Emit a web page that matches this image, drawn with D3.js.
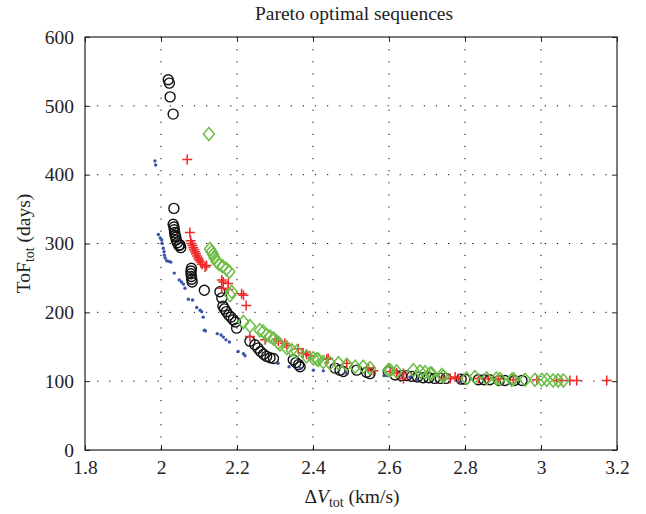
<!DOCTYPE html>
<html>
<head>
<meta charset="utf-8">
<script src="https://cdn.jsdelivr.net/npm/d3@7"></script>
<style>
  body { margin: 0; background: #fff; }
  text { font-family: "Liberation Serif", "DejaVu Serif", serif; fill: #222; }
</style>
</head>
<body>
<div id="chart"></div>
<script>
// Pareto fronts, [deltaV km/s, ToF days]
var blueDots = [[1.984,420],[1.986,414],[1.993,313],[1.998,308],[2.002,305],[2.003,300],[2.006,293],[2.008,288],
  [2.009,283],[2.011,279],[2.015,275],[2.021,274],[2.026,273],[2.035,257],[2.048,247],[2.054,244],[2.059,241],
  [2.063,235],[2.072,219],[2.083,218],[2.094,207],[2.103,203],[2.107,201],[2.111,193],[2.114,174],[2.117,173],
  [2.148,169],[2.158,167],[2.164,164],[2.171,160],[2.18,157],[2.203,143],[2.217,140],[2.221,137],[2.308,126],
  [2.337,121],[2.366,119],[2.401,116],[2.427,115],[2.486,112],[2.587,108],[2.655,106],[2.673,102],[2.787,99]];

var blackCircles = [[2.019,538],[2.022,533],[2.024,513],[2.032,488],[2.034,351],[2.032,328],[2.034,324],[2.035,320],
  [2.036,316],[2.037,312],[2.039,309],[2.04,305],[2.043,301],[2.047,297],[2.05,298],[2.052,294],
  [2.08,264],[2.079,260],[2.079,256],[2.08,252],[2.081,248],[2.082,244],
  [2.114,232],[2.155,230],[2.16,221],[2.163,209],[2.167,205],[2.172,201],[2.178,196],[2.184,193],[2.19,189],
  [2.196,186],[2.199,177],[2.234,158],[2.247,153],[2.255,148],[2.262,143],[2.27,139],[2.278,136],[2.287,134],
  [2.296,133],[2.348,131],[2.355,127],[2.362,124],[2.366,121],[2.458,119],[2.471,116],[2.48,114],[2.515,116],
  [2.541,113],[2.55,111],[2.598,114],[2.616,109],[2.633,108],[2.647,108],[2.66,107],[2.675,106],[2.69,105],
  [2.705,105],[2.72,104],[2.735,104],[2.75,104],[2.79,103],[2.8,103],[2.835,102],[2.85,102],[2.865,102],
  [2.89,101],[2.905,101],[2.93,101],[2.95,101]];

var redPlus = [[2.069,422],[2.076,316],[2.078,304],[2.08,300],[2.083,297],[2.085,294],[2.087,291],[2.09,288],
  [2.092,285],[2.095,282],[2.098,279],[2.1,276],[2.104,273],[2.108,270],[2.116,266],[2.12,268],[2.16,247],
  [2.164,244],[2.177,242],[2.16,235],[2.177,233],[2.212,227],[2.217,225],[2.224,210],[2.234,165],[2.274,160],
  [2.304,161],[2.309,158],[2.326,155],[2.331,152],[2.361,147],[2.374,141],[2.383,139],[2.392,137],[2.436,132],
  [2.44,133],[2.489,126],[2.546,119],[2.559,115],[2.603,114],[2.62,112],[2.638,111],[2.638,104],[2.743,104],
  [2.761,104],[2.774,106],[2.782,104],[2.835,104],[2.861,104],[2.888,103],[2.927,102],[2.989,102],[3.041,101],
  [3.054,101],[3.076,101],[3.094,101],[3.173,101]];

var greenDiamonds = [[2.126,459],[2.129,292],[2.133,288],[2.137,284],[2.141,279],[2.146,274],[2.153,270],[2.162,267],
  [2.172,263],[2.18,259],[2.186,230],[2.182,225],[2.217,186],[2.234,180],[2.26,174],[2.269,172],[2.278,167],
  [2.287,165],[2.296,162],[2.309,156],[2.313,153],[2.331,148],[2.344,145],[2.357,143],[2.383,136],[2.401,133],
  [2.41,132],[2.414,131],[2.427,128],[2.445,126],[2.467,126],[2.489,124],[2.511,121],[2.532,121],[2.55,119],
  [2.598,116],[2.603,116],[2.62,114],[2.664,116],[2.682,114],[2.695,113],[2.708,111],[2.712,111],[2.739,109],
  [2.743,107],[2.804,104],[2.826,106],[2.857,104],[2.883,104],[2.892,103],[2.923,102],[2.927,103],[2.958,102],
  [2.984,102],[3.002,102],[3.015,102],[3.032,101],[3.045,101],[3.059,101]];

var xTicks = [1.8, 2, 2.2, 2.4, 2.6, 2.8, 3, 3.2];
var yTicks = [0, 100, 200, 300, 400, 500, 600];

var margin = {top: 37, right: 29, bottom: 64, left: 85};
var width = 646 - margin.left - margin.right;
var height = 514 - margin.top - margin.bottom;

var svg = d3.select("#chart")
  .append("svg")
    .attr("width", 646)
    .attr("height", 514);

var g = svg.append("g")
    .attr("transform", "translate(" + margin.left + "," + margin.top + ")");

var x = d3.scaleLinear().domain([1.8, 3.2]).range([0, width]);
var y = d3.scaleLinear().domain([0, 600]).range([height, 0]);

// dotted grid
g.selectAll(".vgrid")
  .data(xTicks.slice(1, -1))
  .enter().append("line")
    .attr("x1", function(d) { return x(d); })
    .attr("x2", function(d) { return x(d); })
    .attr("y1", 0).attr("y2", height)
    .attr("stroke", "#000").attr("stroke-width", 1)
    .attr("stroke-dasharray", "1.2,10.9");
g.selectAll(".hgrid")
  .data(yTicks.slice(1, -1))
  .enter().append("line")
    .attr("y1", function(d) { return y(d); })
    .attr("y2", function(d) { return y(d); })
    .attr("x1", 0).attr("x2", width)
    .attr("stroke", "#000").attr("stroke-width", 1)
    .attr("stroke-dasharray", "1.2,10.9");

// axes, ticks pointing in
var fmt = function(d) { return String(d); };
g.append("g")
    .attr("transform", "translate(0," + height + ")")
    .call(d3.axisBottom(x).tickValues(xTicks).tickFormat(fmt).tickSize(-5).tickPadding(10))
    .call(function(a) { a.select(".domain").remove(); });
g.append("g")
    .call(d3.axisTop(x).tickValues(xTicks).tickFormat("").tickSize(-5))
    .call(function(a) { a.select(".domain").remove(); });
g.append("g")
    .call(d3.axisLeft(y).tickValues(yTicks).tickFormat(fmt).tickSize(-5).tickPadding(11))
    .call(function(a) { a.select(".domain").remove(); });
g.append("g")
    .attr("transform", "translate(" + width + ",0)")
    .call(d3.axisRight(y).tickValues(yTicks).tickFormat("").tickSize(-5))
    .call(function(a) { a.select(".domain").remove(); });

g.selectAll(".tick line").attr("stroke", "#222");
g.selectAll(".tick text")
    .style("font-family", '"Liberation Serif", serif')
    .style("font-size", "19.5px")
    .attr("fill", "#222");

g.append("rect")
    .attr("x", 0).attr("y", 0)
    .attr("width", width).attr("height", height)
    .attr("fill", "none")
    .attr("stroke", "#222")
    .attr("stroke-width", 1.2);

// markers
g.selectAll(".circ")
  .data(blackCircles)
  .enter().append("circle")
    .attr("cx", function(d) { return x(d[0]); })
    .attr("cy", function(d) { return y(d[1]); })
    .attr("r", 5)
    .attr("fill", "none")
    .attr("stroke", "#111")
    .attr("stroke-width", 1.4);

g.selectAll(".plus")
  .data(redPlus)
  .enter().append("path")
    .attr("transform", function(d) { return "translate(" + x(d[0]) + "," + y(d[1]) + ")"; })
    .attr("d", "M-5,0H5M0,-5V5")
    .attr("stroke", "#ee2a2a")
    .attr("stroke-width", 1.5)
    .attr("fill", "none");

g.selectAll(".diam")
  .data(greenDiamonds)
  .enter().append("path")
    .attr("transform", function(d) { return "translate(" + x(d[0]) + "," + y(d[1]) + ")"; })
    .attr("d", "M0,-6.5L5.5,0L0,6.5L-5.5,0Z")
    .attr("stroke", "#6cbd45")
    .attr("stroke-width", 1.5)
    .attr("fill", "none");

g.selectAll(".dot")
  .data(blueDots)
  .enter().append("circle")
    .attr("cx", function(d) { return x(d[0]); })
    .attr("cy", function(d) { return y(d[1]); })
    .attr("r", 1.7)
    .attr("fill", "#3a56a8");

// titles
svg.append("text")
    .attr("x", margin.left + width / 2 + 3).attr("y", 20)
    .attr("text-anchor", "middle")
    .style("font-size", "19.5px")
    .text("Pareto optimal sequences");

var xl = svg.append("text")
    .attr("x", margin.left + width / 2 + 1).attr("y", 503)
    .attr("text-anchor", "middle")
    .style("font-size", "19.5px");
xl.append("tspan").text("Δ");
xl.append("tspan").style("font-style", "italic").text("V");
xl.append("tspan").attr("dy", 4).style("font-size", "14px").text("tot");
xl.append("tspan").attr("dy", -4).text(" (km/s)");

var yl = svg.append("text")
    .attr("transform", "translate(30," + (margin.top + height / 2) + ") rotate(-90)")
    .attr("text-anchor", "middle")
    .style("font-size", "19.5px");
yl.append("tspan").text("ToF");
yl.append("tspan").attr("dy", 4).style("font-size", "14px").text("tot");
yl.append("tspan").attr("dy", -4).text(" (days)");
</script>
</body>
</html>
